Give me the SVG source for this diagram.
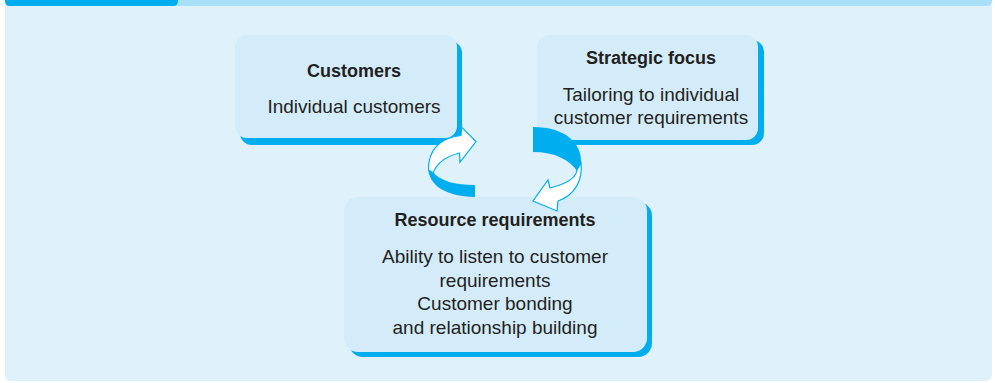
<svg xmlns="http://www.w3.org/2000/svg" width="995" height="383" viewBox="0 0 995 383">
<defs>
<style>
.panel{fill:#dff2fb}
.box{fill:#d4ecf9}
.shadow{fill:#00aeef}
.ribbon{fill:#00aeef}
.arrow{fill:#ffffff;stroke:#00aeef;stroke-width:1.2;stroke-linejoin:miter}
text{font-family:"Liberation Sans",Arial,sans-serif;fill:#231f20;text-anchor:middle}
.title{font-size:18px;font-weight:bold}
.body{font-size:19px}
</style>
</defs>
<rect x="0" y="0" width="995" height="383" fill="#ffffff"/>
<rect class="panel" x="5" y="0" width="987" height="381" rx="6"/>
<path d="M5,0 H992 V1 Q992,6 987,6 H10 Q5,6 5,1 Z" fill="#a8e0fa"/>
<path d="M5,0 H178 V1 Q178,6 173,6 H10 Q5,6 5,1 Z" fill="#00aeef"/>

<g id="customers">
<rect class="shadow" x="240" y="41" width="222" height="104" rx="12"/>
<rect class="box" x="235" y="35" width="222" height="103" rx="12"/>
<text class="title" x="354" y="77">Customers</text>
<text class="body" x="354" y="113">Individual customers</text>
</g>

<g id="strategic">
<rect class="shadow" x="543" y="40" width="221" height="105" rx="12"/>
<rect class="box" x="537" y="35" width="221" height="105" rx="12"/>
<text class="title" x="651" y="64">Strategic focus</text>
<text class="body" x="651" y="100.5">Tailoring to individual</text>
<text class="body" x="651" y="124">customer requirements</text>
</g>

<g id="resources">
<rect class="shadow" x="349" y="202" width="303" height="155" rx="14"/>
<rect class="box" x="344" y="197" width="303" height="155" rx="14"/>
<text class="title" x="495" y="226">Resource requirements</text>
<text class="body" x="495" y="263">Ability to listen to customer</text>
<text class="body" x="495" y="286.5">requirements</text>
<text class="body" x="495" y="310">Customer bonding</text>
<text class="body" x="495" y="333.5">and relationship building</text>
</g>

<g id="connectors">
<path class="ribbon" d="M428,164 C427,182 440,196 475,197 L475,185 C455,185 440,181 433,172 Z"/>
<path class="arrow" d="M428.5,170 C428,150 440,138 461,135.5 L461.5,127 L476,141.5 L460,162 L459.5,153 C447,156 437,163 433,173 Z"/>
<path class="ribbon" d="M533,127 C565,127 583,143 581,165 L577,171 C570,160 555,152 533,152 Z"/>
<path class="arrow" d="M581,163 C583,180 575,195 558,201 L557,211 L533,201 L548,180 L550,188 C566,184 576,178 577,170 Z"/>
</g>
</svg>
